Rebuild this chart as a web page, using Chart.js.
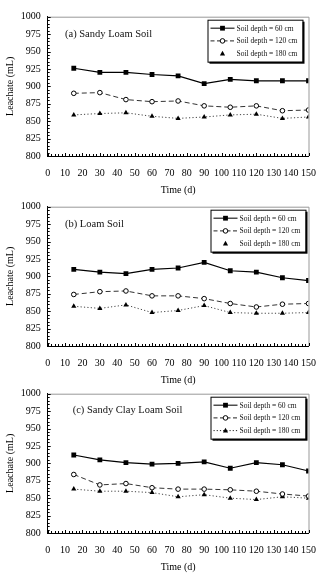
<!DOCTYPE html>
<html>
<head>
<meta charset="utf-8">
<script src="https://cdn.jsdelivr.net/npm/chart.js@4.4.0/dist/chart.umd.min.js"></script>
<style>
body { margin: 0; background: #fff; width: 327px; height: 574px; overflow: hidden; position: relative; }
.panel { position: absolute; left: 0; width: 327px; height: 197px; }
</style>
</head>
<body>
<div class="panel" style="top:0px"><canvas id="ChartA"></canvas></div>
<div class="panel" style="top:190px"><canvas id="ChartB"></canvas></div>
<div class="panel" style="top:377px"><canvas id="ChartC"></canvas></div>
<script>
var Days = [15, 30, 45, 60, 75, 90, 105, 120, 135, 150];
var LegendLabels = ["Soil depth = 60 cm", "Soil depth = 120 cm", "Soil depth = 180 cm"];

// (a) Sandy Loam Soil
var SandyLoam60 = [926, 920, 920, 917, 915, 904, 910, 908, 908, 908];
var SandyLoam120 = [890, 891, 881, 878, 879, 872, 870, 872, 865, 866];
var SandyLoam180 = [859, 861, 862, 857, 854, 856, 859, 860, 854, 856];

// (b) Loam Soil
var Loam60 = [910, 906, 904, 910, 912, 920, 908, 906, 898, 894];
var Loam120 = [874, 878, 879, 872, 872, 868, 861, 856, 860, 861];
var Loam180 = [857, 854, 859, 848, 851, 858, 848, 847, 847, 848];

// (c) Sandy Clay Loam Soil
var SandyClay60 = [912, 905, 901, 899, 900, 902, 893, 901, 898, 889];
var SandyClay120 = [884, 869, 871, 865, 863, 863, 862, 860, 856, 853];
var SandyClay180 = [863, 860, 860, 858, 852, 855, 850, 848, 852, 850];

var FONT = "'Liberation Serif', 'DejaVu Serif', serif";

function ToPoints(Values) {
	return Days.map(function(d, i) { return { x: d, y: Values[i] }; });
}

function DrawMarker(ctx, style, x, y) {
	ctx.beginPath();
	if (style == "rect") {
		ctx.fillStyle = "#000";
		ctx.fillRect(x - 2.4, y - 2.4, 4.8, 4.8);
	} else if (style == "circle") {
		ctx.arc(x, y, 2.3, 0, Math.PI * 2);
		ctx.fillStyle = "#fff";
		ctx.fill();
		ctx.strokeStyle = "#000";
		ctx.lineWidth = 1;
		ctx.stroke();
	} else {
		ctx.moveTo(x, y - 2.8);
		ctx.lineTo(x + 2.6, y + 1.8);
		ctx.lineTo(x - 2.6, y + 1.8);
		ctx.closePath();
		ctx.fillStyle = "#000";
		ctx.fill();
	}
}

var PanelDecor = {
	id: "panelDecor",
	afterDraw: function(chart, args, opts) {
		var ctx = chart.ctx, a = chart.chartArea;
		var xs = chart.scales.x, ys = chart.scales.y;
		ctx.save();
		// box
		ctx.strokeStyle = "#999";
		ctx.lineWidth = 1;
		ctx.beginPath();
		ctx.moveTo(a.left, a.top + 0.5);
		ctx.lineTo(a.right + 0.5, a.top + 0.5);
		ctx.lineTo(a.right + 0.5, a.bottom);
		ctx.stroke();
		// inner ticks
		ctx.strokeStyle = "#000";
		ctx.beginPath();
		for (var v = 0; v <= 150; v += 2) {
			var px = Math.round(xs.getPixelForValue(v)) + 0.5;
			ctx.moveTo(px, a.bottom);
			ctx.lineTo(px, a.bottom - (v % 10 == 0 ? 3 : 2));
		}
		for (var w = 800; w <= 1000; w += 5) {
			var py = Math.round(ys.getPixelForValue(w)) + 0.5;
			ctx.moveTo(a.left, py);
			ctx.lineTo(a.left + (w % 25 == 0 ? 3 : 2), py);
		}
		ctx.stroke();
		// panel title
		ctx.fillStyle = "#111";
		ctx.font = "10.5px " + FONT;
		ctx.textBaseline = "middle";
		ctx.textAlign = "left";
		ctx.fillText(opts.title, a.left + opts.titleX, a.top + opts.titleY);
		// legend box
		var bx = a.right - opts.boxRight, by = a.top + 3, bw = 95, bh = 42;
		ctx.fillStyle = "#000";
		ctx.fillRect(bx + 2, by + 2, bw, bh);
		ctx.fillStyle = "#fff";
		ctx.fillRect(bx, by, bw, bh);
		ctx.strokeStyle = "#000";
		ctx.strokeRect(bx + 0.5, by + 0.5, bw, bh);
		var Styles = ["rect", "circle", "triangle"];
		var Dashes = [[], [4, 2.5], [1.2, 2]];
		for (var i = 0; i < 3; i++) {
			var ry = by + 8.5 + i * 12.7;
			if (i < 2 || opts.line180) {
				ctx.beginPath();
				ctx.setLineDash(Dashes[i]);
				ctx.strokeStyle = "#222";
				ctx.lineWidth = i == 0 ? 1.2 : 1;
				ctx.moveTo(bx + 3, ry);
				ctx.lineTo(bx + 27, ry);
				ctx.stroke();
				ctx.setLineDash([]);
			}
			DrawMarker(ctx, Styles[i], bx + 15, ry);
			ctx.fillStyle = "#111";
			ctx.font = "7.5px " + FONT;
			ctx.textAlign = "left";
			ctx.fillText(LegendLabels[i], bx + 29, ry + 0.5);
		}
		ctx.restore();
	}
};

function ShowPanel(id, Title, D60, D120, D180, Decor) {
	Decor.title = Title;
	new Chart(document.getElementById(id), {
		type: "line",
		data: {
			datasets: [
				{
					label: LegendLabels[0],
					data: ToPoints(D60),
					borderColor: "#000",
					borderWidth: 1.2,
					backgroundColor: "#000",
					pointStyle: "rect",
					pointRadius: 3.4,
					pointBorderWidth: 0,
					tension: 0
				},
				{
					label: LegendLabels[1],
					data: ToPoints(D120),
					borderColor: "#333",
					borderWidth: 1,
					borderDash: [5, 3],
					pointStyle: "circle",
					pointRadius: 2.3,
					pointBackgroundColor: "#fff",
					pointBorderColor: "#000",
					pointBorderWidth: 1,
					tension: 0
				},
				{
					label: LegendLabels[2],
					data: ToPoints(D180),
					borderColor: "#444",
					borderWidth: 1,
					borderDash: [1.2, 2.2],
					backgroundColor: "#000",
					pointStyle: "triangle",
					pointRadius: 3,
					pointBorderWidth: 0,
					tension: 0
				}
			]
		},
		options: {
			responsive: true,
			maintainAspectRatio: false,
			animation: false,
			layout: { padding: { top: 16.7, right: Decor.padRight, left: 0, bottom: 0 } },
			plugins: {
				legend: { display: false },
				tooltip: { enabled: false },
				panelDecor: Decor
			},
			scales: {
				x: {
					type: "linear",
					min: 0,
					max: 150,
					ticks: {
						stepSize: 10, padding: 11, color: "#000", autoSkip: false, maxRotation: 0, minRotation: 0,
						font: { family: FONT, size: 10 },
						callback: function(v) { return String(v); }
					},
					grid: { display: false, drawTicks: false },
					border: { display: true, color: "#000", width: 1 },
					title: { display: true, text: "Time (d)", color: "#000", padding: { top: 0, bottom: 1 }, font: { family: FONT, size: 10 } },
					afterFit: function(scale) { scale.height = 41; }
				},
				y: {
					min: 800,
					max: 1000,
					ticks: {
						stepSize: 25, padding: 7, color: "#000", autoSkip: false,
						font: { family: FONT, size: 10 },
						callback: function(v) { return String(v); }
					},
					grid: { display: false, drawTicks: false },
					border: { display: true, color: "#000", width: 1 },
					title: { display: true, text: "Leachate (mL)", color: "#000", padding: { top: 4, bottom: 0 }, font: { family: FONT, size: 10 } },
					afterFit: function(scale) { scale.width = 47.7; }
				}
			}
		},
		plugins: [PanelDecor]
	});
}

ShowPanel("ChartA", "(a) Sandy Loam Soil", SandyLoam60, SandyLoam120, SandyLoam180,
	{ titleX: 17.3, titleY: 17.6, boxRight: 101, padRight: 14, line180: false });
ShowPanel("ChartB", "(b) Loam Soil", Loam60, Loam120, Loam180,
	{ titleX: 17.3, titleY: 17.6, boxRight: 98, padRight: 14, line180: false });
ShowPanel("ChartC", "(c) Sandy Clay Loam Soil", SandyClay60, SandyClay120, SandyClay180,
	{ titleX: 25, titleY: 16.7, boxRight: 98, padRight: 16.3, line180: true });
</script>
</body>
</html>
